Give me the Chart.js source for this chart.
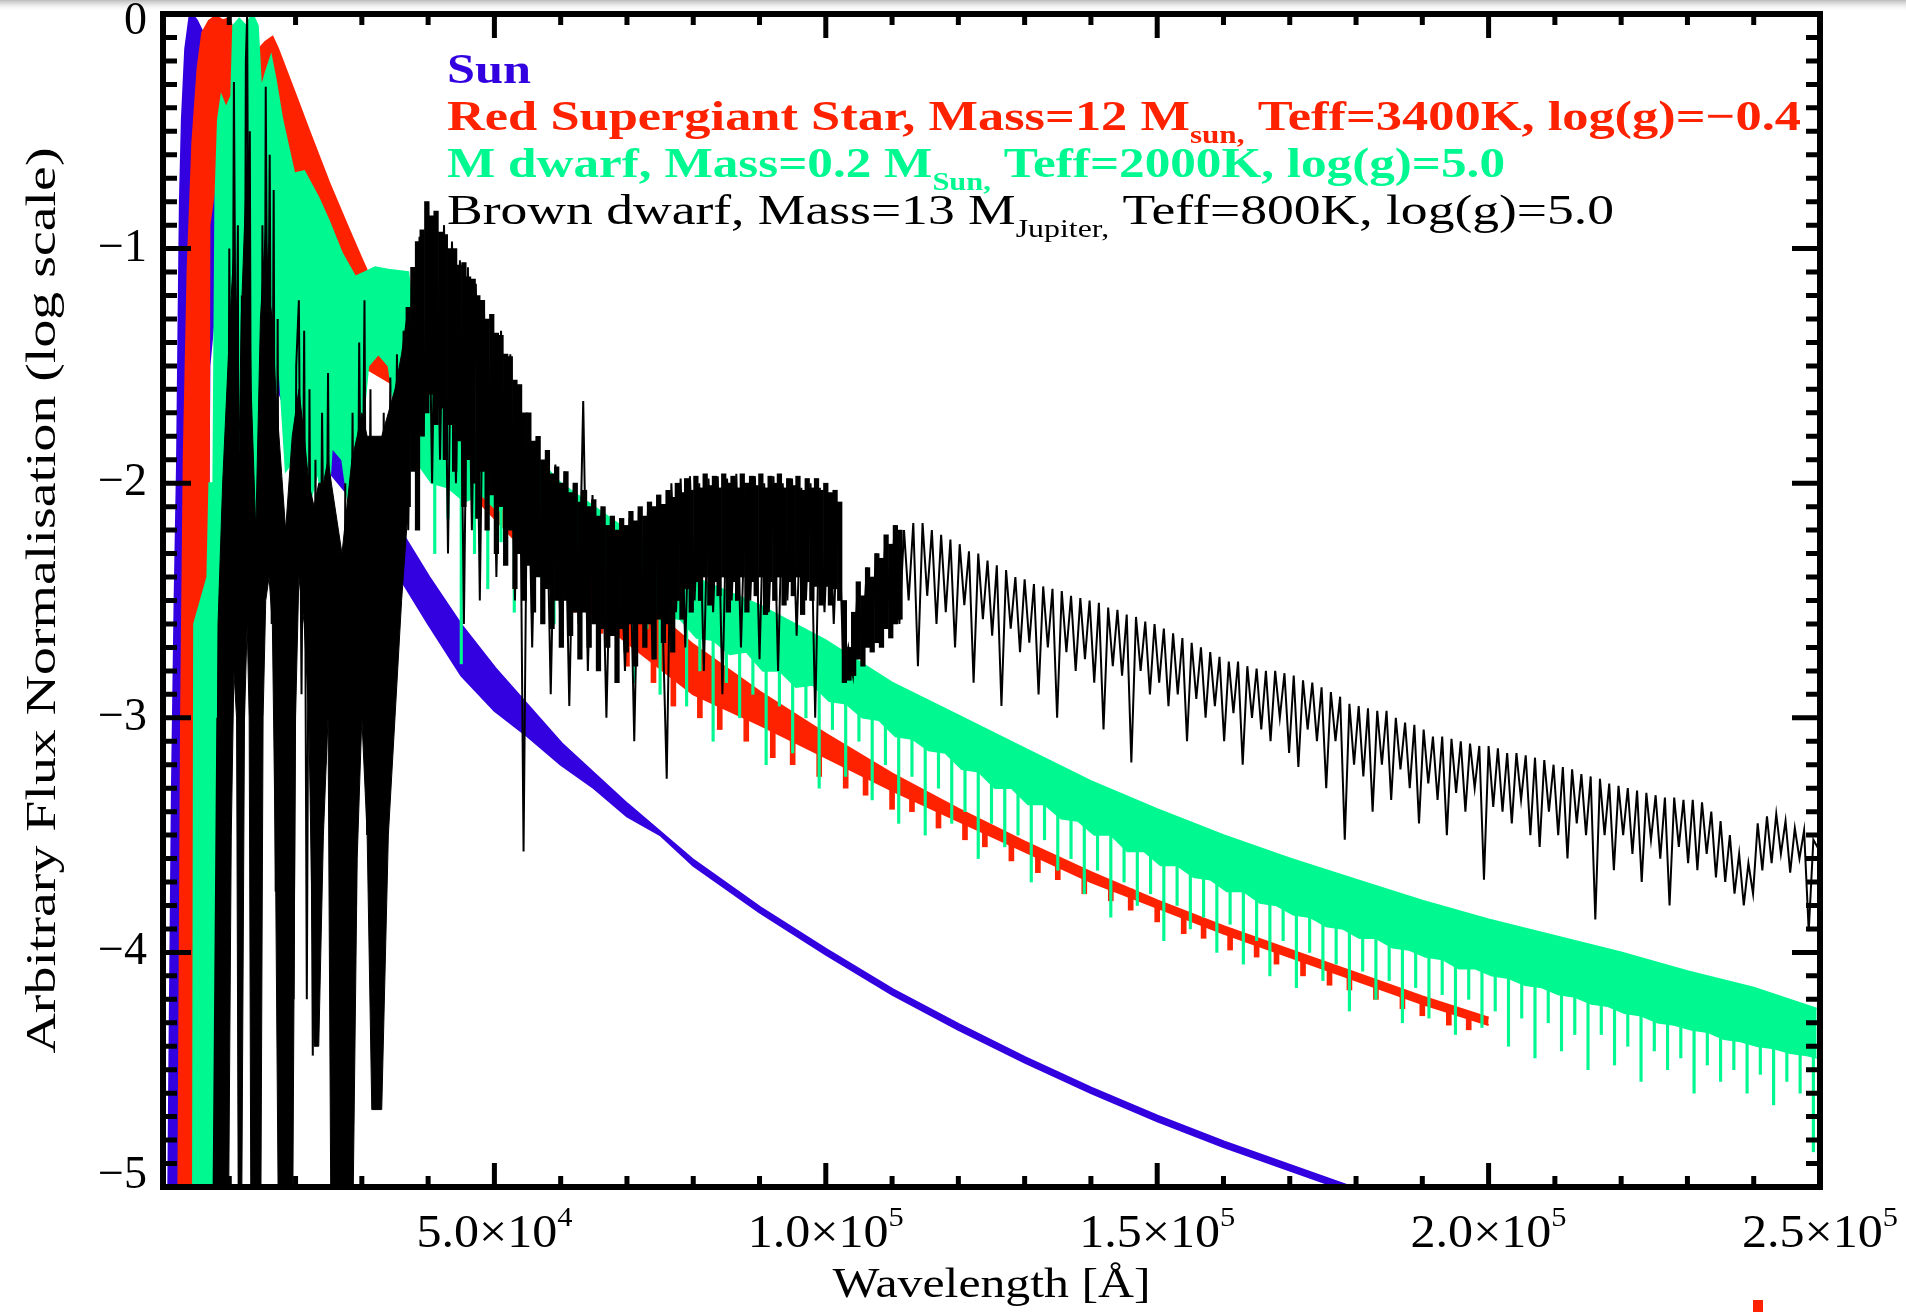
<!DOCTYPE html>
<html>
<head>
<meta charset="utf-8">
<title>Stellar spectra</title>
<script src="https://cdn.jsdelivr.net/npm/chart.js@4.4.1/dist/chart.umd.min.js"></script>
<style>
  html, body { margin: 0; padding: 0; background: #fff; }
  canvas { display: block; }
</style>
</head>
<body>
<canvas id="chart" width="1906" height="1312"></canvas>
<script>
// wavelength in Angstrom, flux as log10 of normalised flux

// Sun
const sunWave = [800, 1100, 1500, 1900, 2260, 2500, 2700, 3000, 3500, 4200,
  5000, 6200, 7000, 8000, 9000, 10000, 12000, 14000, 16000, 18000,
  20000, 22000, 24000, 25000, 30000, 35000, 40000, 45000, 50000, 55000,
  60000, 70000, 80000, 90000, 100000, 110000, 120000, 130000, 140000, 150000,
  160000, 170000, 180000, 190000];
const sunTop = [-5.5, -4.5, -3.3, -2.5, -1.93, -1.3, -0.8, -0.45, -0.15, 0.0,
  -0.03, -0.1, -0.25, -0.45, -0.55, -0.65, -0.85, -0.95, -1.0, -1.15,
  -1.3, -1.42, -1.55, -1.6, -1.9, -2.17, -2.4, -2.61, -2.79, -2.95,
  -3.11, -3.37, -3.61, -3.81, -3.99, -4.16, -4.31, -4.45, -4.58, -4.7,
  -4.81, -4.91, -5.01, -5.11];
const sunLowWave = [800, 6000, 7000, 8000, 12000, 16000, 20000, 25000, 30000, 35000,
  40000, 45000, 50000, 55000, 60000, 65000, 70000, 75000, 80000, 90000,
  100000, 110000, 120000, 130000, 140000, 150000, 160000, 170000, 180000, 190000];
const sunLow = [-5.5, -5.5, -1.5, -1.2, -1.3, -1.5, -1.8, -1.95, -2.12, -2.37,
  -2.6, -2.82, -2.97, -3.08, -3.2, -3.3, -3.42, -3.5, -3.63, -3.83,
  -4.01, -4.18, -4.33, -4.47, -4.6, -4.72, -4.83, -4.93, -5.03, -5.13];

// Red supergiant
const redWave = [2000, 2400, 2800, 3200, 3800, 4500, 5300, 6000, 7000, 8000,
  9000, 10000, 10600, 11200, 12200, 13000, 13600, 14500, 15500, 16500,
  17300, 20000, 22000, 25000, 28000, 30000, 33000, 36000, 40000, 45000,
  50000, 55000, 60000, 65000, 70000, 80000, 90000, 100000, 110000, 120000,
  130000, 140000, 150000, 160000, 170000, 180000, 190000, 200000];
const redTop = [-5.5, -5.0, -3.0, -1.9, -1.08, -0.55, -0.23, -0.08, -0.03, -0.01,
  -0.03, -0.02, -0.08, -0.45, -0.6, -0.3, -0.14, -0.15, -0.12, -0.1,
  -0.15, -0.35, -0.5, -0.72, -0.92, -1.05, -1.24, -1.45, -1.58, -1.73,
  -1.87, -2.03, -2.19, -2.32, -2.45, -2.69, -2.89, -3.07, -3.24, -3.39,
  -3.53, -3.66, -3.78, -3.89, -3.99, -4.09, -4.19, -4.28];
const redLowWave = [2000, 6600, 7000, 8000, 9000, 10000, 10600, 11200, 12200, 13000,
  13600, 15000, 16500, 17300, 20000, 22000, 25000, 28000, 30000, 33000,
  36000, 40000, 45000, 50000, 55000, 60000, 70000, 80000, 90000, 100000,
  110000, 120000, 130000, 140000, 150000, 160000, 170000, 180000, 190000, 200000];
const redLow = [-5.5, -5.5, -0.9, -0.7, -0.6, -0.8, -1.2, -1.4, -1.3, -0.9,
  -0.6, -0.6, -0.65, -0.8, -1.0, -1.2, -1.35, -1.45, -1.5, -1.55,
  -1.6, -1.85, -2.0, -2.15, -2.3, -2.45, -2.68, -2.9, -3.03, -3.17,
  -3.31, -3.44, -3.57, -3.7, -3.81, -3.92, -4.02, -4.12, -4.22, -4.31];
// absorption notches under the red continuum
const redDipWave = [62000, 66000, 70000, 74000, 77000, 81000, 84000, 88000, 92000, 95000,
  99000, 103000, 106000, 110000, 113000, 117000, 121000, 124000, 128000, 132000,
  135000, 139000, 143000, 146000, 150000, 154000, 157000, 161000, 165000, 168000,
  172000, 176000, 179000, 183000, 187000, 190000, 194000, 197000];
const redDipHigh = [-2.4, -2.5, -2.6, -2.7, -2.8, -2.85, -2.9, -2.98, -3.05, -3.1,
  -3.14, -3.2, -3.24, -3.3, -3.3, -3.36, -3.41, -3.46, -3.51, -3.56,
  -3.6, -3.65, -3.7, -3.73, -3.79, -3.83, -3.86, -3.9, -3.94, -3.97,
  -4.02, -4.06, -4.08, -4.12, -4.16, -4.2, -4.24, -4.26];
const redDipLow = [-2.55, -2.64, -2.78, -2.85, -2.95, -3.0, -3.05, -3.1, -3.17, -3.2,
  -3.25, -3.3, -3.33, -3.39, -3.4, -3.47, -3.52, -3.55, -3.61, -3.66,
  -3.69, -3.75, -3.78, -3.82, -3.87, -3.92, -3.94, -3.99, -4.02, -4.05,
  -4.1, -4.14, -4.16, -4.2, -4.24, -4.27, -4.31, -4.33];

// M dwarf
const greenWave = [4500, 4700, 6700, 7000, 7600, 7900, 8300, 8800, 9500, 10300,
  10600, 11500, 12500, 13500, 14300, 14800, 15500, 16300, 17000, 18000,
  19800, 21300, 23400, 25000, 27000, 29000, 30500, 32000, 34000, 37000,
  38000, 40000, 42000, 45000, 50000, 55000, 60000, 65000, 70000, 80000,
  90000, 100000, 110000, 120000, 130000, 140000, 150000, 160000, 170000, 180000,
  190000, 200000, 210000, 220000, 230000, 240000, 249500];
const greenTop = [-5.5, -2.6, -2.4, -2.0, -2.0, -0.8, -0.45, -0.35, -0.4, -0.35,
  -0.05, -0.02, -0.05, 0.0, -0.05, -0.32, -0.25, -0.18, -0.28, -0.45,
  -0.68, -0.67, -0.78, -0.88, -1.02, -1.12, -1.1, -1.08, -1.09, -1.1,
  -1.35, -1.55, -1.65, -1.75, -1.85, -1.85, -2.0, -2.1, -2.2, -2.4,
  -2.52, -2.67, -2.85, -2.99, -3.13, -3.27, -3.39, -3.5, -3.6, -3.69,
  -3.78, -3.86, -3.93, -4.0, -4.08, -4.15, -4.24];
const greenLowWave = [4500, 8000, 8800, 9500, 10300, 11000, 12500, 13500, 14300, 15000,
  16300, 17500, 18500, 19800, 21000, 22000, 23400, 24500, 25500, 27000,
  28500, 30000, 31000, 32500, 34000, 35000, 36000, 37000, 38000,
  40500, 43000, 45500, 48000, 50500, 53000, 55500, 58000, 60500, 63000,
  65500, 68000, 70500, 73000, 75500, 78000, 80500, 83000, 85500, 88000,
  90500, 93000, 95500, 98000, 100500, 103000, 105500, 108000, 110500, 113000,
  115500, 118000, 120500, 123000, 125500, 128000, 130500, 133000, 135500, 138000,
  140500, 143000, 145500, 148000, 150500, 153000, 155500, 158000, 160500, 163000,
  165500, 168000, 170500, 173000, 175500, 178000, 180500, 183000, 185500, 188000,
  190500, 193000, 195500, 198000, 200500, 203000, 205500, 208000, 210500, 213000,
  215500, 218000, 220500, 223000, 225500, 228000, 230500, 233000, 235500, 238000,
  240500, 243000, 245500, 248000, 249500];
const greenLow = [-5.5, -5.5, -3.5, -3.0, -2.8, -2.4, -2.6, -2.3, -2.2, -1.6,
  -1.8, -1.5, -1.95, -1.9, -1.7, -2.1, -1.95, -2.3, -1.85, -1.9,
  -2.2, -1.8, -1.5, -1.45, -1.5, -1.7, -1.5, -1.55, -1.9,
  -2.0, -2.02, -2.08, -2.05, -2.12, -2.08, -2.15, -2.18, -2.27, -2.28,
  -2.37, -2.38, -2.47, -2.5, -2.57, -2.58, -2.66, -2.67, -2.73, -2.72,
  -2.8, -2.8, -2.87, -2.86, -2.93, -2.94, -3.0, -3.01, -3.08, -3.09,
  -3.14, -3.15, -3.22, -3.23, -3.3, -3.3, -3.37, -3.37, -3.43, -3.44,
  -3.5, -3.5, -3.57, -3.57, -3.63, -3.63, -3.68, -3.69, -3.74, -3.74,
  -3.79, -3.8, -3.84, -3.85, -3.89, -3.9, -3.94, -3.94, -3.98, -3.99,
  -4.02, -4.03, -4.07, -4.07, -4.1, -4.11, -4.14, -4.15, -4.18, -4.19,
  -4.22, -4.23, -4.26, -4.27, -4.3, -4.31, -4.33, -4.34, -4.37, -4.38,
  -4.4, -4.41, -4.43, -4.44, -4.45];
// absorption lines hanging below the M dwarf band
const greenDipWave = [41000, 43000, 45000, 47000, 49000, 51000, 53000, 55000, 57000, 59000,
  61000, 63000, 65000, 67000, 69000, 71000, 73000, 75000, 77000, 79000,
  81000, 83000, 85000, 87000, 89000, 91000, 93000, 95000, 97000, 99000,
  101000, 103000, 105000, 107000, 109000, 111000, 113000, 115000, 117000, 119000,
  121000, 123000, 125000, 127000, 129000, 131000, 133000, 135000, 137000, 139000,
  141000, 143000, 145000, 147000, 149000, 151000, 153000, 155000, 157000, 159000,
  161000, 163000, 165000, 167000, 169000, 171000, 173000, 175000, 177000, 179000,
  181000, 183000, 185000, 187000, 189000, 191000, 193000, 195000, 197000, 199000,
  201000, 203000, 205000, 207000, 209000, 211000, 213000, 215000, 217000, 219000,
  221000, 223000, 225000, 227000, 229000, 231000, 233000, 235000, 237000, 239000,
  241000, 243000, 245000, 247000, 249000];
const greenDipHigh = [-1.92, -1.94, -1.99, -1.98, -2.0, -2.03, -2.0, -2.06, -2.09, -2.13,
  -2.19, -2.2, -2.27, -2.3, -2.34, -2.4, -2.42, -2.48, -2.5, -2.54,
  -2.58, -2.59, -2.64, -2.64, -2.68, -2.72, -2.72, -2.78, -2.78, -2.82,
  -2.85, -2.86, -2.91, -2.92, -2.96, -3.0, -3.01, -3.05, -3.07, -3.1,
  -3.14, -3.15, -3.21, -3.22, -3.25, -3.29, -3.29, -3.34, -3.36, -3.39,
  -3.42, -3.42, -3.48, -3.49, -3.52, -3.55, -3.55, -3.59, -3.61, -3.63,
  -3.66, -3.66, -3.7, -3.72, -3.74, -3.76, -3.77, -3.8, -3.82, -3.84,
  -3.86, -3.86, -3.89, -3.91, -3.92, -3.94, -3.95, -3.98, -3.99, -4.01,
  -4.02, -4.03, -4.05, -4.07, -4.08, -4.1, -4.11, -4.13, -4.15, -4.17,
  -4.18, -4.19, -4.22, -4.23, -4.24, -4.25, -4.26, -4.29, -4.3, -4.31,
  -4.32, -4.33, -4.35, -4.36, -4.37];
const greenDipLow = [-2.3, -2.15, -2.77, -2.3, -2.45, -2.25, -2.55, -2.3, -2.4, -2.6,
  -2.45, -2.7, -2.5, -2.65, -2.55, -2.85, -2.62, -2.9, -2.7, -2.95,
  -2.8, -3.1, -2.85, -3.0, -2.9, -3.2, -2.95, -3.15, -3.0, -3.3,
  -3.05, -3.25, -3.1, -3.35, -3.2, -3.45, -3.25, -3.5, -3.3, -3.45,
  -3.4, -3.6, -3.45, -3.55, -3.5, -3.7, -3.52, -3.65, -3.6, -3.75,
  -3.65, -3.85, -3.7, -3.8, -3.75, -3.95, -3.8, -3.9, -3.85, -4.0,
  -3.88, -4.05, -3.95, -4.1, -3.95, -4.15, -4.0, -4.12, -4.05, -4.25,
  -4.08, -4.2, -4.12, -4.3, -4.15, -4.28, -4.18, -4.35, -4.2, -4.32,
  -4.25, -4.4, -4.28, -4.45, -4.3, -4.42, -4.35, -4.5, -4.35, -4.48,
  -4.4, -4.55, -4.42, -4.5, -4.45, -4.6, -4.48, -4.55, -4.5, -4.6,
  -4.52, -4.65, -4.55, -4.6, -4.85];

// Brown dwarf: dense towers in the near infrared
const brownBandWave = [7500, 8000, 8300, 9000, 9800, 10300, 10700, 11100, 11400, 11800,
  12300, 12700, 13000, 13300, 14000, 14700, 15100, 15500, 16000, 16500,
  17000, 17500, 18500, 19500, 20000, 20500, 21300, 22000, 22800, 23500,
  24200, 24900, 25400, 27000, 28500, 29300, 30000, 30800, 31500, 33000,
  34000, 35000, 36000, 37000];
const brownBandTop = [-5.5, -4.0, -2.6, -2.0, -1.5, -1.2, -1.0, -1.4, -2.0, -1.3,
  -0.9, -0.6, -1.1, -1.6, -2.2, -1.3, -1.1, -0.9, -1.2, -1.3,
  -1.6, -1.8, -2.2, -1.8, -1.7, -1.6, -1.8, -2.0, -2.1, -2.0,
  -2.0, -1.9, -2.0, -2.3, -1.9, -1.8, -1.7, -1.8, -1.8, -1.8,
  -1.7, -1.6, -1.45, -1.25];
const brownBandLow = [-5.5, -5.5, -5.5, -5.5, -5.5, -3.5, -2.8, -3.0, -5.5, -5.5,
  -3.0, -2.6, -3.0, -5.5, -5.5, -5.5, -3.0, -2.5, -2.4, -2.6,
  -3.7, -5.5, -5.5, -5.5, -3.0, -2.4, -2.6, -3.0, -4.4, -4.4,
  -3.5, -3.0, -5.5, -5.5, -5.5, -3.6, -3.0, -3.5, -4.67, -4.67,
  -3.5, -3.0, -2.5, -2.1];

// Brown dwarf: dense forest of lines from 3.7 to 11 micron
const brownBarWave = [37000, 37700, 38400, 39100, 39800, 40500, 41200, 41900, 42600, 43300,
  44000, 44700, 45400, 46100, 46800, 47500, 48200, 48900, 49600, 50300,
  51000, 51700, 52400, 53100, 53800, 54500, 55200, 55900, 56600, 57300,
  58000, 58700, 59400, 60100, 60800, 61500, 62200, 62900, 63600, 64300,
  65000, 65700, 66400, 67100, 67800, 68500, 69200, 69900, 70600, 71300,
  72000, 72700, 73400, 74100, 74800, 75500, 76200, 76900, 77600, 78300,
  79000, 79700, 80400, 81100, 81800, 82500, 83200, 83900, 84600, 85300,
  86000, 86700, 87400, 88100, 88800, 89500, 90200, 90900, 91600, 92300,
  93000, 93700, 94400, 95100, 95800, 96500, 97200, 97900, 98600, 99300,
  100000, 100700, 101400, 102100, 102800, 103500, 104200, 104900, 105600, 106300,
  107000, 107700, 108400, 109100, 109800, 110500, 111200];
const brownBarHigh = [-1.25, -1.08, -0.97, -0.92, -0.8, -0.86, -0.84, -0.93, -0.94, -1.0,
  -1.0, -1.07, -1.06, -1.12, -1.13, -1.2, -1.22, -1.3, -1.28, -1.36,
  -1.37, -1.45, -1.46, -1.56, -1.58, -1.7, -1.7, -1.82, -1.8, -1.9,
  -1.86, -1.96, -1.93, -2.0, -1.95, -2.04, -2.0, -2.08, -2.03, -2.1,
  -2.07, -2.14, -2.1, -2.18, -2.14, -2.2, -2.15, -2.18, -2.12, -2.16,
  -2.1, -2.14, -2.08, -2.1, -2.05, -2.09, -2.03, -2.06, -2.0, -2.04,
  -1.98, -2.03, -1.97, -2.02, -1.96, -2.01, -1.97, -2.02, -1.96, -2.0,
  -1.97, -2.02, -1.96, -2.0, -1.97, -2.01, -1.96, -2.02, -1.97, -2.0,
  -1.96, -2.02, -1.98, -2.01, -1.97, -2.03, -1.98, -2.02, -1.98, -2.03,
  -2.0, -2.04, -2.03, -2.08, -2.5, -2.7, -2.55, -2.42, -2.48, -2.36,
  -2.4, -2.3, -2.32, -2.22, -2.26, -2.18, -2.2];
const brownBarLow = [-2.1, -1.95, -2.2, -1.8, -1.7, -1.62, -1.75, -1.68, -1.9, -1.75,
  -1.95, -1.82, -2.1, -1.9, -2.0, -2.15, -1.95, -2.2, -2.05, -2.3,
  -2.1, -2.35, -2.2, -2.45, -2.3, -2.5, -2.35, -2.55, -2.4, -2.6,
  -2.45, -2.62, -2.5, -2.7, -2.5, -2.65, -2.55, -2.75, -2.55, -2.7,
  -2.6, -2.8, -2.62, -2.7, -2.65, -2.85, -2.62, -2.72, -2.6, -2.78,
  -2.6, -2.7, -2.6, -2.75, -2.58, -2.68, -2.6, -2.72, -2.5, -2.58,
  -2.45, -2.55, -2.42, -2.5, -2.4, -2.52, -2.42, -2.48, -2.4, -2.55,
  -2.42, -2.5, -2.4, -2.55, -2.42, -2.48, -2.4, -2.56, -2.42, -2.5,
  -2.4, -2.52, -2.42, -2.48, -2.4, -2.56, -2.42, -2.5, -2.44, -2.52,
  -2.44, -2.52, -2.45, -2.5, -2.85, -2.84, -2.82, -2.75, -2.78, -2.7,
  -2.72, -2.68, -2.7, -2.62, -2.66, -2.6, -2.58];

// Brown dwarf: the spectrum line itself
const brownWave = [7500, 8200, 8600, 9200, 9600, 10000, 10400, 10700, 11000, 11300,
  11500, 11900, 12200, 12500, 12700, 12900, 13100, 13400, 13800, 14300,
  14700, 15000, 15300, 15500, 15800, 16100, 16400, 16700, 17000, 17300,
  17700, 18200, 18800, 19300, 19700, 20100, 20500, 20900, 21300, 21700,
  22100, 22600, 23000, 23500, 24000, 24500, 24900, 25300, 25800, 26400,
  26900, 27500, 28000, 28600, 29100, 29600, 30000, 30400, 30800, 31300,
  31800, 32300, 32800, 33300, 33800, 34300, 34800, 35300, 35800, 36300,
  37000, 37600, 38200, 38700, 39300, 40000, 40600, 41200, 41800, 42400,
  43000, 43600, 44200, 44800, 45400, 46000, 46600, 47200, 47800, 48400,
  49000, 49600, 50300, 51000, 51700, 52400, 53100, 53800, 54400, 55000,
  55700, 56400, 57100, 57800, 58500, 59200, 59900, 60600, 61300, 62000,
  62700, 63400, 64100, 64800, 65500, 66200, 66900, 67600, 68300, 69000,
  69700, 70400, 71100, 71800, 72500, 73200, 73900, 74600, 75300, 76000,
  76700, 77400, 78100, 78800, 79500, 80200, 80900, 81600, 82300, 83000,
  83700, 84400, 85100, 85800, 86500, 87200, 87900, 88600, 89300, 90000,
  90700, 91400, 92100, 92800, 93500, 94200, 94900, 95600, 96300, 97000,
  97700, 98400, 99100, 99800, 100500, 101200, 101900, 102700,
  103400, 104100, 104800, 105500, 106200, 106900, 107600, 108300, 109000, 109700,
  110400, 111100, 111800, 112500, 113200, 113900, 114600, 115300, 116000, 116700,
  117400, 118100, 118800, 119500, 120200, 120900, 121600, 122300, 123000, 123700,
  124400, 125100, 125800, 126500, 127200, 127900, 128600, 129300, 130000, 130700,
  131400, 132100, 132800, 133500, 134200, 134900, 135600, 136300, 137000, 137700,
  138400, 139100, 139800, 140500, 141200, 141900, 142600, 143300, 144000, 144700,
  145400, 146100, 146800, 147500, 148200, 148900, 149600, 150300, 151000, 151700,
  152400, 153100, 153800, 154500, 155200, 155900, 156600, 157300, 158000, 158700,
  159400, 160100, 160800, 161500, 162200, 162900, 163600, 164300, 165000, 165700,
  166400, 167100, 167800, 168500, 169200, 169900, 170600, 171300, 172000, 172700,
  173400, 174100, 174800, 175500, 176200, 176900, 177600, 178300, 179000, 179700,
  180400, 181100, 181800, 182500, 183200, 183900, 184600, 185300, 186000, 186700,
  187400, 188100, 188800, 189500, 190200, 190900, 191600, 192300, 193000, 193700,
  194400, 195100, 195800, 196500, 197200, 197900, 198600, 199300, 200000, 200700,
  201400, 202100, 202800, 203500, 204200, 204900, 205600, 206300, 207000, 207700,
  208400, 209100, 209800, 210500, 211200, 211900, 212600, 213300, 214000, 214700,
  215400, 216100, 216800, 217500, 218200, 218900, 219600, 220300, 221000, 221700,
  222400, 223100, 223800, 224500, 225200, 225900, 226600, 227300, 228000, 228700,
  229400, 230100, 230800, 231500, 232200, 232900, 233600, 234300, 235000, 235700,
  236400, 237100, 237800, 238500, 239200, 239900, 240600, 241300, 242000, 242700,
  243400, 244100, 244800, 245500, 246200, 246900, 247600, 248300, 249000, 249800];
const brownFlux = [-5.5, -3.0, -5.5, -2.0, -4.5, -1.0, -2.5, -0.29, -1.8, -0.9,
  -5.5, -1.2, -3.0, -0.2, 0.0, -1.5, -0.5, -3.5, -5.5, -2.4,
  -4.0, -0.9, -2.3, -0.31, -1.8, -0.6, -2.6, -0.75, -3.74, -1.3,
  -5.0, -2.5, -4.8, -2.0, -4.2, -1.5, -1.22, -2.9, -1.35, -4.2,
  -1.6, -4.44, -1.9, -3.7, -1.7, -3.2, -1.53, -3.4, -5.5, -2.5,
  -5.5, -2.0, -4.5, -1.7, -3.8, -1.4, -2.6, -1.22, -3.5, -1.6,
  -4.67, -2.0, -4.0, -1.7, -3.06, -1.55, -2.8, -1.45, -2.4, -1.35,
  -2.2, -1.1, -1.9, -0.95, -1.8, -0.8, -2.0, -0.85, -1.9, -0.9,
  -2.3, -0.97, -2.0, -1.05, -2.6, -1.08, -2.2, -1.15, -2.5, -1.22,
  -2.1, -1.28, -2.4, -1.35, -2.2, -1.45, -2.5, -1.58, -3.57, -1.7,
  -2.7, -1.8, -2.4, -1.88, -2.9, -1.92, -2.55, -1.95, -2.95, -2.0,
  -2.6, -1.65, -2.8, -2.05, -2.5, -2.1, -3.0, -2.15, -2.6, -2.2,
  -2.8, -2.15, -3.1, -2.12, -2.6, -2.1, -2.75, -2.05, -2.5, -3.26,
  -2.0, -2.55, -1.98, -2.7, -1.97, -2.5, -2.0, -2.8, -1.98, -2.55,
  -1.97, -2.9, -1.98, -2.5, -1.96, -2.7, -2.0, -2.5, -1.97, -2.75,
  -2.0, -2.55, -1.97, -2.8, -2.0, -2.5, -1.98, -2.65, -2.02, -2.5,
  -2.0, -3.0, -2.02, -2.55, -2.05, -2.6, -2.08, -2.83,
  -2.7, -2.82, -2.45, -2.7, -2.36, -2.65, -2.3, -2.6, -2.24, -2.55,
  -2.18, -2.6, -2.2, -2.5, -2.17, -2.78, -2.17, -2.48, -2.2, -2.6,
  -2.22, -2.55, -2.24, -2.7, -2.26, -2.52, -2.29, -2.85, -2.3, -2.58,
  -2.33, -2.65, -2.35, -2.95, -2.37, -2.62, -2.4, -2.72, -2.41, -2.68,
  -2.43, -2.9, -2.44, -2.7, -2.45, -3.0, -2.46, -2.72, -2.48, -2.8,
  -2.49, -2.75, -2.5, -2.85, -2.51, -3.05, -2.53, -2.78, -2.54, -2.82,
  -2.56, -3.19, -2.57, -2.8, -2.59, -2.9, -2.6, -2.85, -2.62, -2.95,
  -2.64, -2.9, -2.66, -3.1, -2.68, -2.92, -2.7, -3.0, -2.72, -2.95,
  -2.74, -3.1, -2.76, -2.98, -2.76, -3.2, -2.78, -3.0, -2.79, -3.05,
  -2.8, -3.1, -2.8, -3.0, -2.81, -3.15, -2.82, -3.21, -2.84, -3.05,
  -2.85, -3.1, -2.87, -3.3, -2.89, -3.1, -2.91, -3.52, -2.94, -3.2,
  -2.95, -3.25, -2.96, -3.4, -2.97, -3.2, -2.97, -3.35, -3.0, -3.22,
  -3.02, -3.3, -3.03, -3.45, -3.05, -3.28, -3.08, -3.35, -3.08, -3.5,
  -3.09, -3.32, -3.1, -3.4, -3.11, -3.3, -3.12, -3.69, -3.12, -3.38,
  -3.13, -3.4, -3.15, -3.45, -3.15, -3.35, -3.16, -3.5, -3.17, -3.55,
  -3.18, -3.4, -3.2, -3.5, -3.21, -3.6, -3.22, -3.45, -3.24, -3.5,
  -3.25, -3.86, -3.26, -3.5, -3.28, -3.65, -3.29, -3.5, -3.3, -3.58,
  -3.31, -3.7, -3.32, -3.52, -3.33, -3.6, -3.34, -3.8, -3.34, -3.55,
  -3.35, -3.62, -3.35, -3.65, -3.36, -3.58, -3.4, -3.68, -3.44, -3.7,
  -3.5, -3.75, -3.58, -3.8, -3.62, -3.75, -3.45, -3.65, -3.42, -3.62,
  -3.41, -3.58, -3.44, -3.66, -3.47, -3.6, -3.48, -3.91, -3.52, -3.56];

// axis ticks
const xTickValues = [50000, 100000, 150000, 200000, 250000];
const xTickMantissa = ['5.0×10', '1.0×10', '1.5×10', '2.0×10', '2.5×10'];
const xTickExponent = ['4', '5', '5', '5', '5'];
const yTickValues = [0, -1, -2, -3, -4, -5];
const yTickLabels = ['0', '−1', '−2', '−3', '−4', '−5'];

const sunColor = '#3300e0';
const redColor = '#ff2200';
const greenColor = '#00f890';
const brownColor = '#000000';

// legend text, pieces marked 'sub' are subscripts
const legendLines = [
  { color: sunColor, weight: 'bold', width: 84, parts: [['Sun']] },
  { color: redColor, weight: 'bold', width: 1354,
    parts: [['Red Supergiant Star, Mass=12 M'], ['sun,', 'sub'], [' Teff=3400K, log(g)=−0.4']] },
  { color: greenColor, weight: 'bold', width: 1058,
    parts: [['M dwarf, Mass=0.2 M'], ['Sun,', 'sub'], [' Teff=2000K, log(g)=5.0']] },
  { color: brownColor, weight: 'normal', width: 1167,
    parts: [['Brown dwarf, Mass=13 M'], ['Jupiter,', 'sub'], [' Teff=800K, log(g)=5.0']] },
];

const FONT = '"Liberation Serif", "Times New Roman", serif';

function pts(xs, ys) {
  return xs.map((x, i) => ({ x: x, y: ys[i] }));
}

function bars(xs, lows, highs) {
  return xs.map((x, i) => ({ x: x, y: [lows[i], highs[i]] }));
}

// text with sub/superscripts, squeezed or stretched to a given width
function richText(ctx, parts, x, y, o) {
  const big = `${o.weight || 'normal'} ${o.size}px ${FONT}`;
  const small = `${o.weight || 'normal'} ${Math.round(o.size * 0.6)}px ${FONT}`;
  let natural = 0;
  parts.forEach(([t, k]) => {
    ctx.font = k ? small : big;
    natural += ctx.measureText(t).width;
  });
  const sx = o.width ? o.width / natural : 1;
  const w = natural * sx;
  const left = o.align === 'center' ? x - w / 2 : x;
  ctx.save();
  ctx.translate(left, y);
  ctx.scale(sx, 1);
  ctx.fillStyle = o.color || '#000';
  ctx.textAlign = 'left';
  ctx.textBaseline = 'alphabetic';
  let cx = 0;
  parts.forEach(([t, k]) => {
    ctx.font = k ? small : big;
    const dy = k === 'sub' ? o.size * 0.3 : (k === 'sup' ? -o.size * 0.45 : 0);
    ctx.fillText(t, cx, dy);
    cx += ctx.measureText(t).width;
  });
  ctx.restore();
}

// IDL style box: thick frame, inward ticks, labels and the text block
const idlFrame = {
  id: 'idlFrame',
  afterDraw(chart) {
    const { ctx, chartArea: a } = chart;
    const xs = chart.scales.x;
    const ys = chart.scales.y;
    ctx.save();

    // grey shadow along the top edge of the screenshot
    const g = ctx.createLinearGradient(0, 0, 0, 12);
    g.addColorStop(0, 'rgba(120,120,120,0.5)');
    g.addColorStop(1, 'rgba(255,255,255,0)');
    ctx.fillStyle = g;
    ctx.fillRect(0, 0, chart.width, 12);

    ctx.strokeStyle = '#000';
    ctx.lineWidth = 5;
    ctx.lineCap = 'butt';
    ctx.beginPath();
    for (let v = 0; v <= 250000; v += 10000) {
      const px = xs.getPixelForValue(v);
      const len = v % 50000 === 0 ? 24 : 11;
      ctx.moveTo(px, a.bottom); ctx.lineTo(px, a.bottom - len);
      ctx.moveTo(px, a.top); ctx.lineTo(px, a.top + len);
    }
    for (let i = 0; i <= 50; i++) {
      const py = ys.getPixelForValue(-i / 10);
      const len = i % 10 === 0 ? 28 : 14;
      ctx.moveTo(a.left, py); ctx.lineTo(a.left + len, py);
      ctx.moveTo(a.right, py); ctx.lineTo(a.right - len, py);
    }
    ctx.stroke();
    ctx.lineWidth = 6;
    ctx.strokeRect(a.left, a.top, a.right - a.left, a.bottom - a.top);

    // y tick labels
    ctx.fillStyle = '#000';
    ctx.font = `46px ${FONT}`;
    ctx.textAlign = 'right';
    ctx.textBaseline = 'middle';
    yTickValues.forEach((v, i) => {
      let py = ys.getPixelForValue(v);
      py = Math.min(Math.max(py, a.top + 8), a.bottom - 11);
      ctx.fillText(yTickLabels[i], a.left - 16, py);
    });

    // x tick labels
    xTickValues.forEach((v, i) => {
      richText(ctx, [[xTickMantissa[i]], [xTickExponent[i], 'sup']],
        xs.getPixelForValue(v), a.bottom + 60, { size: 46, width: 156, align: 'center' });
    });

    // axis titles
    richText(ctx, [['Wavelength [Å]']], (a.left + a.right) / 2, 1297,
      { size: 42, width: 318, align: 'center' });
    ctx.save();
    ctx.translate(55, (a.top + a.bottom) / 2);
    ctx.rotate(-Math.PI / 2);
    richText(ctx, [['Arbitrary Flux Normalisation (log scale)']], 0, 0,
      { size: 42, width: 906, align: 'center' });
    ctx.restore();

    // text block naming the spectra
    legendLines.forEach((line, i) => {
      richText(ctx, line.parts, 447, 83 + i * 47,
        { size: 42, weight: line.weight, color: line.color, width: line.width });
    });

    // small red mark below the axis
    ctx.fillStyle = redColor;
    ctx.fillRect(1753, 1300, 10, 12);
    ctx.restore();
  }
};

const ctx = document.getElementById('chart').getContext('2d');
new Chart(ctx, {
  type: 'line',
  data: {
    datasets: [
      // 0
      { label: 'Brown dwarf', data: pts(brownWave, brownFlux), borderColor: brownColor,
        borderWidth: 2, fill: false, order: 1 },
      // 1
      { type: 'bar', label: 'Brown dwarf lines', data: bars(brownBarWave, brownBarLow, brownBarHigh),
        backgroundColor: brownColor, borderWidth: 0, barThickness: 4.6, grouped: false, order: 2 },
      // 2
      { label: 'Brown dwarf core', data: pts(brownBandWave, brownBandTop), borderColor: brownColor,
        borderWidth: 1, fill: false, order: 2 },
      // 3
      { label: 'Brown dwarf core low', data: pts(brownBandWave, brownBandLow), borderColor: brownColor,
        borderWidth: 1, backgroundColor: brownColor, fill: 2, order: 2 },
      // 4
      { label: 'M dwarf', data: pts(greenWave, greenTop), borderColor: greenColor,
        borderWidth: 2, fill: false, order: 3 },
      // 5
      { label: 'M dwarf low', data: pts(greenLowWave, greenLow), borderColor: greenColor,
        borderWidth: 1.5, backgroundColor: greenColor, fill: 4, order: 3 },
      // 6
      { type: 'bar', label: 'M dwarf lines', data: bars(greenDipWave, greenDipLow, greenDipHigh),
        backgroundColor: greenColor, borderWidth: 0, barThickness: 2.5, grouped: false, order: 3 },
      // 7
      { label: 'Red supergiant', data: pts(redWave, redTop), borderColor: redColor,
        borderWidth: 3, fill: false, order: 4 },
      // 8
      { label: 'Red supergiant low', data: pts(redLowWave, redLow), borderColor: redColor,
        borderWidth: 2, backgroundColor: redColor, fill: 7, order: 4 },
      // 9
      { type: 'bar', label: 'Red supergiant lines', data: bars(redDipWave, redDipLow, redDipHigh),
        backgroundColor: redColor, borderWidth: 0, barThickness: 5, grouped: false, order: 4 },
      // 10
      { label: 'Sun', data: pts(sunWave, sunTop), borderColor: sunColor,
        borderWidth: 4, fill: false, order: 5 },
      // 11
      { label: 'Sun low', data: pts(sunLowWave, sunLow), borderColor: sunColor,
        borderWidth: 2, backgroundColor: sunColor, fill: 10, order: 5 },
    ],
  },
  options: {
    responsive: false,
    devicePixelRatio: 1,
    animation: false,
    events: [],
    layout: { padding: { left: 163, right: 86, top: 14, bottom: 125 } },
    elements: { point: { radius: 0 }, line: { tension: 0, borderCapStyle: 'butt' } },
    scales: {
      x: { type: 'linear', min: 0, max: 250000, offset: false, display: false },
      y: { type: 'linear', min: -5, max: 0, display: false },
    },
    plugins: {
      legend: { display: false },
      tooltip: { enabled: false },
    },
  },
  plugins: [idlFrame],
});
</script>
</body>
</html>
